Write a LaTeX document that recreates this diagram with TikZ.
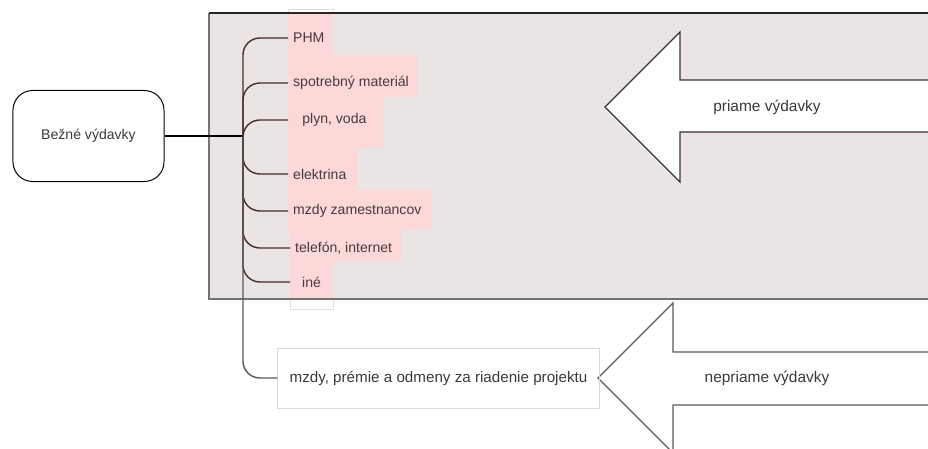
\documentclass[tikz,border=0pt]{standalone}
\usepackage{fontspec}
\setmainfont{Liberation Sans}
\definecolor{panelgray}{HTML}{EAE4E4}
\definecolor{itempink}{HTML}{FCD8D8}
\definecolor{branchbrown}{HTML}{4A2C2C}
\definecolor{itemtext}{HTML}{4A3A3A}
\definecolor{labeltext}{HTML}{3A3A3A}

\begin{document}
\begin{tikzpicture}[x=0.025cm, y=-0.025cm,
	item/.style={anchor=west, inner xsep=3.5pt, inner ysep=2pt, text=itemtext, font=\fontsize{10}{12}\selectfont},
	branch/.style={line width=1pt, draw=branchbrown, rounded corners=12pt},
	bigarrow/.style={fill=white, line width=0.9pt, line join=miter},
	arrowlabel/.style={text=labeltext, font=\fontsize{11}{13}\selectfont}]
		%%%%% START %%%%%
		\clip (0, 0) rectangle (928, 448);
		
		% faint outlines where the boxes stick out of the panel
		\draw[draw=black!12] (288, 9) rectangle (333, 55);
		\draw[draw=black!12] (290, 262) rectangle (333, 309);
		
		\fill[panelgray] (209, 13) rectangle (940, 299);
		
		\fill[itempink] (288, 13) rectangle (333, 55);
		\fill[itempink] (288, 55) rectangle (418, 97);
		\fill[itempink] (288, 97) rectangle (383, 148);
		\fill[itempink] (288, 148) rectangle (358, 190);
		\fill[itempink] (288, 190) rectangle (432, 230);
		\fill[itempink] (290, 230) rectangle (402, 262);
		\fill[itempink] (290, 262) rectangle (333, 299);
		
		\draw[line width=0.8pt, draw=black!55] (940, 299) -- (209, 299) -- (209, 13);
		\draw[line width=1pt, draw=black!85] (209, 13) -- (940, 13);
		
		\draw[bigarrow, draw=black!80] (605, 107) -- (680, 32) -- (680, 80) -- (940, 80) -- (940, 132) -- (680, 132) -- (680, 182) -- cycle;
		\draw[bigarrow, draw=black!65] (598, 378) -- (673, 303) -- (673, 352) -- (940, 352) -- (940, 405) -- (673, 405) -- (673, 453) -- cycle;
		\node[arrowlabel] (priame) at (767, 107) {priame výdavky};
		\node[arrowlabel] (nepriame) at (767, 378) {nepriame výdavky};
		
		\node[draw, line width=0.7pt, rounded corners=14pt, minimum width=3.775cm, minimum height=2.275cm, text=labeltext, font=\fontsize{10}{12}\selectfont] (bezne) at (88.5, 136) {Bežné výdavky};
		\coordinate (fork) at (243, 136);
		
		\node[item] (phm) at (288, 38) {PHM};
		\node[item] (spotreba) at (288, 83) {spotrebný materiál};
		\node[item, inner xsep=10pt] (plyn) at (288, 120) {plyn, voda};
		\node[item] (elektrina) at (288, 174) {elektrina};
		\node[item] (mzdy) at (288, 211) {mzdy zamestnancov};
		\node[item] (telefon) at (290, 248) {telefón, internet};
		\node[item, inner xsep=8.5pt] (ine) at (290, 282) {iné};
		\node[draw=black!15, line width=0.7pt, minimum width=8.025cm, minimum height=1.5cm, text=labeltext, font=\fontsize{10.8}{13}\selectfont] (riadenie) at (438.5, 378) {mzdy, prémie a odmeny za riadenie projektu};
		
		\draw[line width=0.8pt] (bezne.east) -- (fork);
		\foreach \leaf in {phm, spotreba, plyn, elektrina, mzdy, telefon, ine}
			\draw[branch] (fork) |- (\leaf.west);
		\draw[branch, draw=black!65] (fork) |- (riadenie.west);
		
		%%%%% END %%%%%
\end{tikzpicture}
\end{document}
